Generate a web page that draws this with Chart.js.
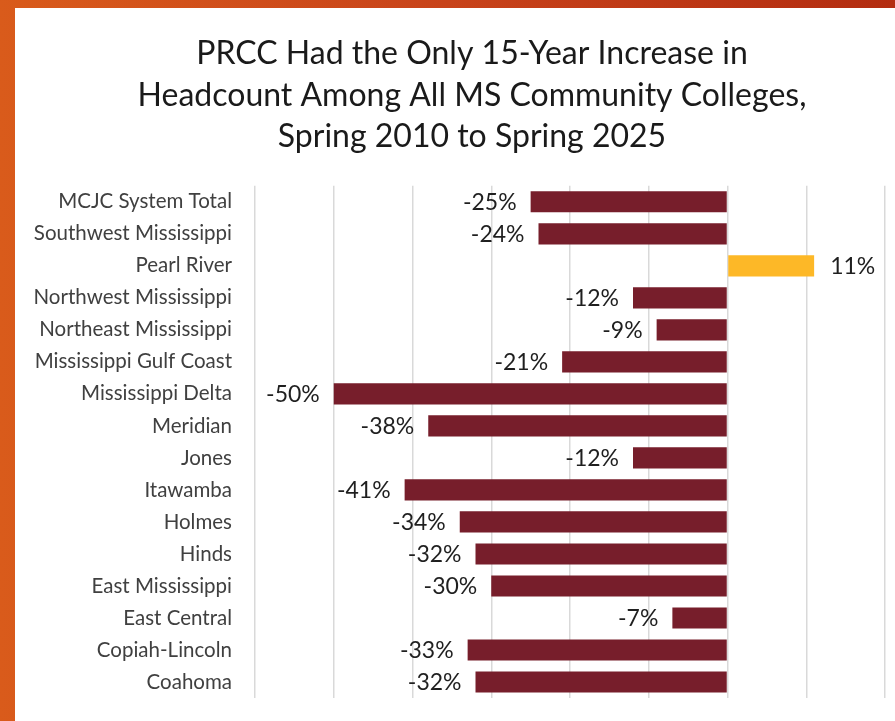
<!DOCTYPE html>
<html>
<head>
<meta charset="utf-8">
<title>PRCC Headcount Change</title>
<script src="https://cdn.jsdelivr.net/npm/chart.js@4"></script>
<style>
    html, body { margin: 0; padding: 0; }
    body {
        width: 895px; height: 721px; overflow: hidden;
        background: linear-gradient(90deg, #d95b1b 0%, #c8431a 50%, #b32c10 100%);
        position: relative;
    }
    #panel {
        position: absolute; left: 15px; top: 8px; width: 880px; height: 713px;
        background: #ffffff;
    }
</style>
</head>
<body>
<div id="panel"><canvas id="chart" width="880" height="713"></canvas></div>
<script>
// --- data ---
const colleges = [
    'MCJC System Total', 'Southwest Mississippi', 'Pearl River', 'Northwest Mississippi',
    'Northeast Mississippi', 'Mississippi Gulf Coast', 'Mississippi Delta', 'Meridian',
    'Jones', 'Itawamba', 'Holmes', 'Hinds', 'East Mississippi', 'East Central',
    'Copiah-Lincoln', 'Coahoma'
];
const changePct = [-25, -24, 11, -12, -9, -21, -50, -38, -12, -41, -34, -32, -30, -7, -33, -32];
const titleLines = [
    'PRCC Had the Only 15-Year Increase in',
    'Headcount Among All MS Community Colleges,',
    'Spring 2010 to Spring 2025'
];

const MAROON = '#771e2b';
const GOLD = '#fdb827';
const FONT = 'Lato, "Open Sans", sans-serif';

// value labels next to each bar end
const barLabels = {
    id: 'barLabels',
    afterDatasetsDraw(chart) {
        const ctx = chart.ctx;
        const meta = chart.getDatasetMeta(0);
        ctx.save();
        ctx.font = '23px ' + FONT;
        ctx.fillStyle = '#1f1f1f';
        ctx.textBaseline = 'middle';
        meta.data.forEach(function (bar, i) {
            const v = changePct[i];
            if (v < 0) {
                ctx.textAlign = 'right';
                ctx.fillText(v + '%', bar.x - 14, bar.y + 1);
            } else {
                ctx.textAlign = 'left';
                ctx.fillText(v + '%', bar.x + 16, bar.y + 1);
            }
        });
        ctx.restore();
    }
};

// title sits a little right of the canvas centre in the original
const titleShift = {
    id: 'titleShift',
    afterLayout(chart) {
        if (chart.titleBlock) {
            chart.titleBlock.left += 44;
        }
    }
};

new Chart(document.getElementById('chart').getContext('2d'), {
    type: 'bar',
    data: {
        labels: colleges,
        datasets: [{
            data: changePct,
            backgroundColor: changePct.map(v => v > 0 ? GOLD : MAROON),
            barPercentage: 0.66,
            categoryPercentage: 1.0,
            borderWidth: 0
        }]
    },
    options: {
        indexAxis: 'y',
        responsive: false,
        animation: false,
        devicePixelRatio: 1,
        layout: { padding: { left: 0, right: 10, top: 0, bottom: 23 } },
        plugins: {
            legend: { display: false },
            tooltip: { enabled: false },
            title: {
                display: true,
                text: titleLines,
                color: '#1a1a1a',
                font: { family: FONT, size: 32, weight: 'normal', lineHeight: 1.3 },
                padding: { top: 25, bottom: 28 }
            }
        },
        scales: {
            x: {
                min: -60,
                max: 20,
                afterFit(scale) { scale.height = 0; },
                ticks: { display: false, stepSize: 10 },
                grid: { color: '#d9d9d9', lineWidth: 1.5, drawTicks: false },
                border: { display: false }
            },
            y: {
                afterFit(scale) {
                    scale.width = 240;
                    scale.paddingTop = 0;
                    scale.paddingBottom = 0;
                },
                ticks: {
                    color: '#404040',
                    padding: 23,
                    font: { family: FONT, size: 20.5 }
                },
                grid: { display: false, drawTicks: false },
                border: { display: false }
            }
        }
    },
    plugins: [barLabels, titleShift]
});
</script>
</body>
</html>
